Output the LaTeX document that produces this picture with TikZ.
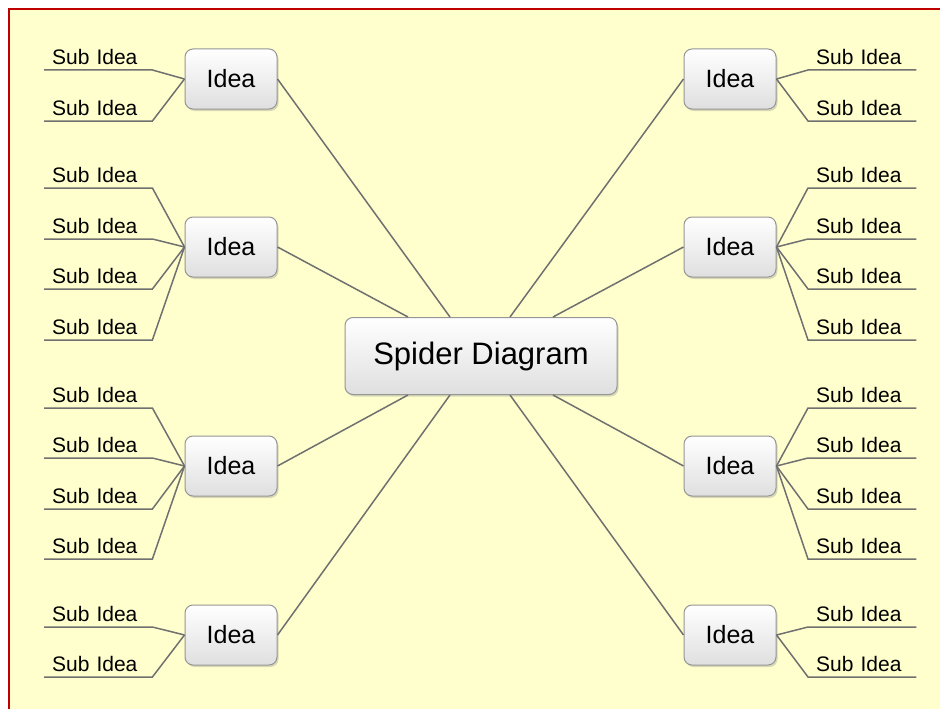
\documentclass[tikz,border=0pt]{standalone}
\usepackage{fontspec}
\setmainfont{Liberation Sans}
\usetikzlibrary{shapes,shadows}
\definecolor{paper}{RGB}{255,255,206}
\definecolor{frame}{RGB}{192,0,0}
\definecolor{wire}{RGB}{112,112,112}
\definecolor{rim}{RGB}{150,150,150}
\tikzstyle{centre} = [rectangle, rounded corners=8pt, minimum width=272pt, minimum height=77pt, draw=rim, line width=1pt, top color=white, bottom color=gray!25, drop shadow={opacity=0.3, shadow xshift=1.5pt, shadow yshift=-2pt}, font=\fontsize{31}{36}\selectfont]
\tikzstyle{idea} = [rectangle, rounded corners=8pt, minimum width=92pt, minimum height=60pt, draw=rim, line width=1pt, top color=white, bottom color=gray!25, drop shadow={opacity=0.3, shadow xshift=1.5pt, shadow yshift=-2pt}, font=\fontsize{25}{30}\selectfont]
\tikzstyle{subidea} = [anchor=south west, text width=92pt, inner xsep=8pt, inner ysep=5.5pt, align=left, font=\fontsize{21}{24}\selectfont]
\tikzstyle{link} = [draw=wire, line width=1.5pt]

\begin{document}
\begin{tikzpicture}[x=1pt, y=-1pt]

\useasboundingbox (0,0) rectangle (940,709);
\fill [paper] (9,9) rectangle (940,709);
\draw [frame, line width=2pt] (9,709) -- (9,9) -- (940,9);

\node (spider) [centre] at (481,356) {Spider Diagram};

\node (ideaLa) [idea] at (231,79) {Idea};
\node (ideaLb) [idea] at (231,247) {Idea};
\node (ideaLc) [idea] at (231,466) {Idea};
\node (ideaLd) [idea] at (231,635) {Idea};
\node (ideaRa) [idea] at (730,79) {Idea};
\node (ideaRb) [idea] at (730,247) {Idea};
\node (ideaRc) [idea] at (730,466) {Idea};
\node (ideaRd) [idea] at (730,635) {Idea};

\node (subLa1) [subidea] at (44,70) {Sub Idea};
\node (subLa2) [subidea] at (44,121) {Sub Idea};
\node (subLb1) [subidea] at (44,188) {Sub Idea};
\node (subLb2) [subidea] at (44,239) {Sub Idea};
\node (subLb3) [subidea] at (44,289) {Sub Idea};
\node (subLb4) [subidea] at (44,340) {Sub Idea};
\node (subLc1) [subidea] at (44,408) {Sub Idea};
\node (subLc2) [subidea] at (44,458) {Sub Idea};
\node (subLc3) [subidea] at (44,509) {Sub Idea};
\node (subLc4) [subidea] at (44,559) {Sub Idea};
\node (subLd1) [subidea] at (44,627) {Sub Idea};
\node (subLd2) [subidea] at (44,677) {Sub Idea};

\node (subRa1) [subidea] at (808,70) {Sub Idea};
\node (subRa2) [subidea] at (808,121) {Sub Idea};
\node (subRb1) [subidea] at (808,188) {Sub Idea};
\node (subRb2) [subidea] at (808,239) {Sub Idea};
\node (subRb3) [subidea] at (808,289) {Sub Idea};
\node (subRb4) [subidea] at (808,340) {Sub Idea};
\node (subRc1) [subidea] at (808,408) {Sub Idea};
\node (subRc2) [subidea] at (808,458) {Sub Idea};
\node (subRc3) [subidea] at (808,509) {Sub Idea};
\node (subRc4) [subidea] at (808,559) {Sub Idea};
\node (subRd1) [subidea] at (808,627) {Sub Idea};
\node (subRd2) [subidea] at (808,677) {Sub Idea};

% spokes to the centre
\draw [link] (ideaLa.east) -- ([xshift=-31pt]spider.north);
\draw [link] (ideaLb.east) -- ([xshift=-73pt]spider.north);
\draw [link] (ideaLc.east) -- ([xshift=-73pt]spider.south);
\draw [link] (ideaLd.east) -- ([xshift=-31pt]spider.south);
\draw [link] (ideaRa.west) -- ([xshift=29pt]spider.north);
\draw [link] (ideaRb.west) -- ([xshift=72pt]spider.north);
\draw [link] (ideaRc.west) -- ([xshift=72pt]spider.south);
\draw [link] (ideaRd.west) -- ([xshift=29pt]spider.south);

% left branches
\draw [link] (ideaLa.west) -- (subLa1.south east) -- (subLa1.south west);
\draw [link] (ideaLa.west) -- (subLa2.south east) -- (subLa2.south west);
\draw [link] (ideaLb.west) -- (subLb1.south east) -- (subLb1.south west);
\draw [link] (ideaLb.west) -- (subLb2.south east) -- (subLb2.south west);
\draw [link] (ideaLb.west) -- (subLb3.south east) -- (subLb3.south west);
\draw [link] (ideaLb.west) -- (subLb4.south east) -- (subLb4.south west);
\draw [link] (ideaLc.west) -- (subLc1.south east) -- (subLc1.south west);
\draw [link] (ideaLc.west) -- (subLc2.south east) -- (subLc2.south west);
\draw [link] (ideaLc.west) -- (subLc3.south east) -- (subLc3.south west);
\draw [link] (ideaLc.west) -- (subLc4.south east) -- (subLc4.south west);
\draw [link] (ideaLd.west) -- (subLd1.south east) -- (subLd1.south west);
\draw [link] (ideaLd.west) -- (subLd2.south east) -- (subLd2.south west);

% right branches
\draw [link] (ideaRa.east) -- (subRa1.south west) -- (subRa1.south east);
\draw [link] (ideaRa.east) -- (subRa2.south west) -- (subRa2.south east);
\draw [link] (ideaRb.east) -- (subRb1.south west) -- (subRb1.south east);
\draw [link] (ideaRb.east) -- (subRb2.south west) -- (subRb2.south east);
\draw [link] (ideaRb.east) -- (subRb3.south west) -- (subRb3.south east);
\draw [link] (ideaRb.east) -- (subRb4.south west) -- (subRb4.south east);
\draw [link] (ideaRc.east) -- (subRc1.south west) -- (subRc1.south east);
\draw [link] (ideaRc.east) -- (subRc2.south west) -- (subRc2.south east);
\draw [link] (ideaRc.east) -- (subRc3.south west) -- (subRc3.south east);
\draw [link] (ideaRc.east) -- (subRc4.south west) -- (subRc4.south east);
\draw [link] (ideaRd.east) -- (subRd1.south west) -- (subRd1.south east);
\draw [link] (ideaRd.east) -- (subRd2.south west) -- (subRd2.south east);

\end{tikzpicture}
\end{document}
